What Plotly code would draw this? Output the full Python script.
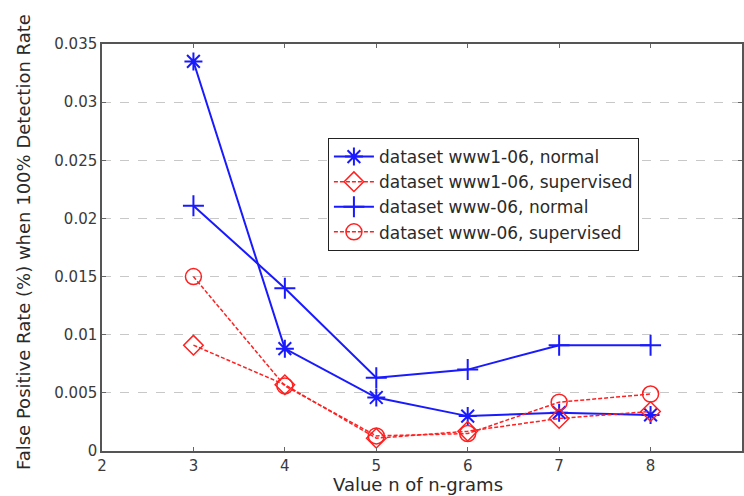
import plotly.graph_objects as go

n_values = [3, 4, 5, 6, 7, 8]
www1_normal = [0.0335, 0.0088, 0.0046, 0.0030, 0.0033, 0.0031]
www1_supervised = [0.0091, 0.0057, 0.0011, 0.0017, 0.0028, 0.0034]
www_normal = [0.0211, 0.0140, 0.0063, 0.0070, 0.0091, 0.0091]
www_supervised = [0.0150, 0.0056, 0.0013, 0.0015, 0.0042, 0.0049]

series_names = [
    "dataset www1-06, normal",
    "dataset www1-06, supervised",
    "dataset www-06, normal",
    "dataset www-06, supervised",
]

y_ticks = [0, 0.005, 0.01, 0.015, 0.02, 0.025, 0.03, 0.035]
y_tick_labels = ["0", "0.005", "0.01", "0.015", "0.02", "0.025", "0.03", "0.035"]
x_ticks = [2, 3, 4, 5, 6, 7, 8, 9]
x_title = "Value n of n-grams"
y_title = "False Positive Rate (%) when 100% Detection Rate"

BLUE = "#1a1aff"
RED = "#ff2020"
FONT = "DejaVu Sans, Liberation Sans, Arial, sans-serif"

fig = go.Figure()
fig.add_trace(go.Scatter(
    x=n_values, y=www1_normal, name=series_names[0], mode="lines+markers",
    line=dict(color=BLUE, width=2),
    marker=dict(symbol="asterisk-open", size=15, line=dict(color=BLUE, width=2)),
))
fig.add_trace(go.Scatter(
    x=n_values, y=www1_supervised, name=series_names[1], mode="lines+markers",
    line=dict(color=RED, width=1.5, dash="4px,2px"),
    marker=dict(symbol="diamond-open", size=15, color=RED, line=dict(color=RED, width=1.5)),
))
fig.add_trace(go.Scatter(
    x=n_values, y=www_normal, name=series_names[2], mode="lines+markers",
    line=dict(color=BLUE, width=2),
    marker=dict(symbol="cross-thin-open", size=15, line=dict(color=BLUE, width=2)),
))
fig.add_trace(go.Scatter(
    x=n_values, y=www_supervised, name=series_names[3], mode="lines+markers",
    line=dict(color=RED, width=1.5, dash="4px,2px"),
    marker=dict(symbol="circle-open", size=16, color=RED, line=dict(color=RED, width=1.5)),
))

axis_font = dict(family=FONT, size=15, color="#3a3a3a")

fig.update_layout(
    width=744, height=496,
    margin=dict(l=102, r=2, t=44, b=45, autoexpand=False),
    paper_bgcolor="white", plot_bgcolor="white",
    font=dict(family=FONT, color="#333333"),
    showlegend=True,
    legend=dict(
        x=0.353, y=0.769, xanchor="left", yanchor="top",
        bordercolor="#222222", borderwidth=1, bgcolor="white",
        font=dict(family=FONT, size=17, color="#2a2a2a"),
        tracegroupgap=0, itemwidth=40,
    ),
    xaxis=dict(
        range=[2, 9], tickvals=x_ticks, ticks="inside", ticklen=4,
        tickcolor="#666666", showline=True, linecolor="#555555", linewidth=1.5,
        mirror="ticks", showgrid=False, zeroline=False, tickfont=axis_font,
        automargin=False,
    ),
    yaxis=dict(
        range=[0, 0.035], tickvals=y_ticks, ticktext=y_tick_labels, ticks="inside", ticklen=4,
        tickcolor="#666666", showline=True, linecolor="#555555", linewidth=1.5,
        mirror="ticks", showgrid=True, gridcolor="#c8c8c8", griddash="dash", gridwidth=1.2,
        zeroline=False, tickfont=axis_font, automargin=False,
    ),
    annotations=[
        dict(text=x_title, xref="paper", yref="paper", x=(418 - 102) / 640, y=-(485 - 451) / 407,
             xanchor="center", yanchor="middle", showarrow=False,
             font=dict(family=FONT, size=18, color="#2a2a2a")),
        dict(text=y_title, xref="paper", yref="paper", x=-(102 - 23) / 640, y=(451 - 242) / 407,
             xanchor="center", yanchor="middle", showarrow=False, textangle=-90,
             font=dict(family=FONT, size=18, color="#2a2a2a")),
    ],
)

fig.write_html("out.html", config={"displayModeBar": False},
               post_script="document.body.style.margin='0';")
